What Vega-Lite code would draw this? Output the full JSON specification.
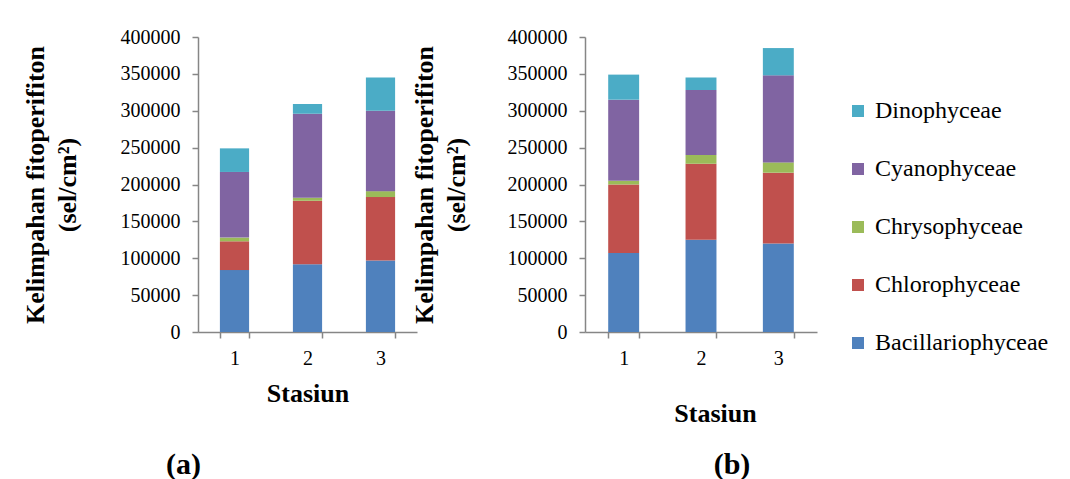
{
  "$schema": "https://vega.github.io/schema/vega-lite/v6.json",
  "background": "white",
  "padding": {"left": 22, "top": 27, "right": 5, "bottom": 0},
  "data": {"values": [
    {"panel": "a", "stasiun": 1, "kelas": "Bacillariophyceae", "nilai": 84000},
    {"panel": "a", "stasiun": 1, "kelas": "Chlorophyceae", "nilai": 39000},
    {"panel": "a", "stasiun": 1, "kelas": "Chrysophyceae", "nilai": 5000},
    {"panel": "a", "stasiun": 1, "kelas": "Cyanophyceae", "nilai": 89000},
    {"panel": "a", "stasiun": 1, "kelas": "Dinophyceae", "nilai": 32000},
    {"panel": "a", "stasiun": 2, "kelas": "Bacillariophyceae", "nilai": 92000},
    {"panel": "a", "stasiun": 2, "kelas": "Chlorophyceae", "nilai": 86000},
    {"panel": "a", "stasiun": 2, "kelas": "Chrysophyceae", "nilai": 4000},
    {"panel": "a", "stasiun": 2, "kelas": "Cyanophyceae", "nilai": 114000},
    {"panel": "a", "stasiun": 2, "kelas": "Dinophyceae", "nilai": 13000},
    {"panel": "a", "stasiun": 3, "kelas": "Bacillariophyceae", "nilai": 97000},
    {"panel": "a", "stasiun": 3, "kelas": "Chlorophyceae", "nilai": 86000},
    {"panel": "a", "stasiun": 3, "kelas": "Chrysophyceae", "nilai": 8000},
    {"panel": "a", "stasiun": 3, "kelas": "Cyanophyceae", "nilai": 109000},
    {"panel": "a", "stasiun": 3, "kelas": "Dinophyceae", "nilai": 45000},
    {"panel": "b", "stasiun": 1, "kelas": "Bacillariophyceae", "nilai": 107000},
    {"panel": "b", "stasiun": 1, "kelas": "Chlorophyceae", "nilai": 93000},
    {"panel": "b", "stasiun": 1, "kelas": "Chrysophyceae", "nilai": 5000},
    {"panel": "b", "stasiun": 1, "kelas": "Cyanophyceae", "nilai": 110000},
    {"panel": "b", "stasiun": 1, "kelas": "Dinophyceae", "nilai": 34000},
    {"panel": "b", "stasiun": 2, "kelas": "Bacillariophyceae", "nilai": 125000},
    {"panel": "b", "stasiun": 2, "kelas": "Chlorophyceae", "nilai": 103000},
    {"panel": "b", "stasiun": 2, "kelas": "Chrysophyceae", "nilai": 12000},
    {"panel": "b", "stasiun": 2, "kelas": "Cyanophyceae", "nilai": 88000},
    {"panel": "b", "stasiun": 2, "kelas": "Dinophyceae", "nilai": 17000},
    {"panel": "b", "stasiun": 3, "kelas": "Bacillariophyceae", "nilai": 120000},
    {"panel": "b", "stasiun": 3, "kelas": "Chlorophyceae", "nilai": 96000},
    {"panel": "b", "stasiun": 3, "kelas": "Chrysophyceae", "nilai": 14000},
    {"panel": "b", "stasiun": 3, "kelas": "Cyanophyceae", "nilai": 118000},
    {"panel": "b", "stasiun": 3, "kelas": "Dinophyceae", "nilai": 37000}
  ]},
  "config": {
    "font": "Liberation Serif",
    "view": {"stroke": null},
    "axis": {
      "grid": false,
      "domainColor": "#868686",
      "domainWidth": 1.5,
      "tickColor": "#868686",
      "tickWidth": 1.5,
      "tickSize": 6,
      "labelColor": "black",
      "labelFont": "Liberation Serif",
      "labelFontSize": 20,
      "titleColor": "black",
      "titleFont": "Liberation Serif",
      "titleFontSize": 26,
      "titleFontWeight": "bold"
    },
    "title": {"font": "Liberation Serif", "fontSize": 30, "fontWeight": "bold", "color": "black"}
  },
  "resolve": {"scale": {"color": "independent"}, "legend": {"color": "independent"}},
  "spacing": -6,
  "hconcat": [
    {
      "width": 219,
      "height": 295,
      "transform": [{"filter": "datum.panel == 'a'"}],
      "title": {"text": "(a)", "orient": "bottom", "anchor": "middle", "frame": "group", "dx": -124, "offset": 44},
      "mark": {"type": "bar"},
      "encoding": {
        "x": {"field": "stasiun", "type": "ordinal",
          "scale": {"paddingInner": 0.6, "paddingOuter": 0.3},
          "axis": {"title": "Stasiun", "labelAngle": 0, "tickBand": "extent", "labelPadding": 10, "titlePadding": 12}},
        "y": {"field": "nilai", "type": "quantitative", "stack": "zero",
          "scale": {"domain": [0, 400000], "nice": false},
          "axis": {"title": ["Kelimpahan fitoperifiton", "(sel/cm²)"], "values": [0, 50000, 100000, 150000, 200000, 250000, 300000, 350000, 400000], "format": "d", "labelPadding": 12, "titlePadding": 40, "titleLineHeight": 32}},
        "color": {"field": "kelas", "type": "nominal",
          "scale": {"domain": ["Dinophyceae", "Cyanophyceae", "Chrysophyceae", "Chlorophyceae", "Bacillariophyceae"], "range": ["#4BACC6", "#8064A2", "#9BBB59", "#C0504D", "#4F81BD"]},
          "legend": null},
        "order": {"field": "kelas", "sort": "ascending"}
      }
    },
    {
      "width": 232,
      "height": 295,
      "transform": [{"filter": "datum.panel == 'b'"}],
      "title": {"text": "(b)", "orient": "bottom", "anchor": "middle", "frame": "group", "dx": 31, "offset": 24},
      "mark": {"type": "bar"},
      "encoding": {
        "x": {"field": "stasiun", "type": "ordinal",
          "scale": {"paddingInner": 0.6, "paddingOuter": 0.3},
          "axis": {"title": "Stasiun", "labelAngle": 0, "tickBand": "extent", "labelPadding": 10, "titlePadding": 32, "titleX": 130}},
        "y": {"field": "nilai", "type": "quantitative", "stack": "zero",
          "scale": {"domain": [0, 400000], "nice": false},
          "axis": {"title": ["Kelimpahan fitoperifiton", "(sel/cm²)"], "values": [0, 50000, 100000, 150000, 200000, 250000, 300000, 350000, 400000], "format": "d", "labelPadding": 12, "titlePadding": 38, "titleLineHeight": 32}},
        "color": {"field": "kelas", "type": "nominal",
          "scale": {"domain": ["Dinophyceae", "Cyanophyceae", "Chrysophyceae", "Chlorophyceae", "Bacillariophyceae"], "range": ["#4BACC6", "#8064A2", "#9BBB59", "#C0504D", "#4F81BD"]},
          "legend": {"title": null, "orient": "none", "legendX": 261, "legendY": 62, "symbolType": "square", "symbolSize": 144, "symbolStrokeWidth": 0, "labelFont": "Liberation Serif", "labelFontSize": 24, "labelColor": "black", "labelOffset": 5, "rowPadding": 34, "padding": 0, "labelLimit": 300}},
        "order": {"field": "kelas", "sort": "ascending"}
      }
    }
  ]
}
